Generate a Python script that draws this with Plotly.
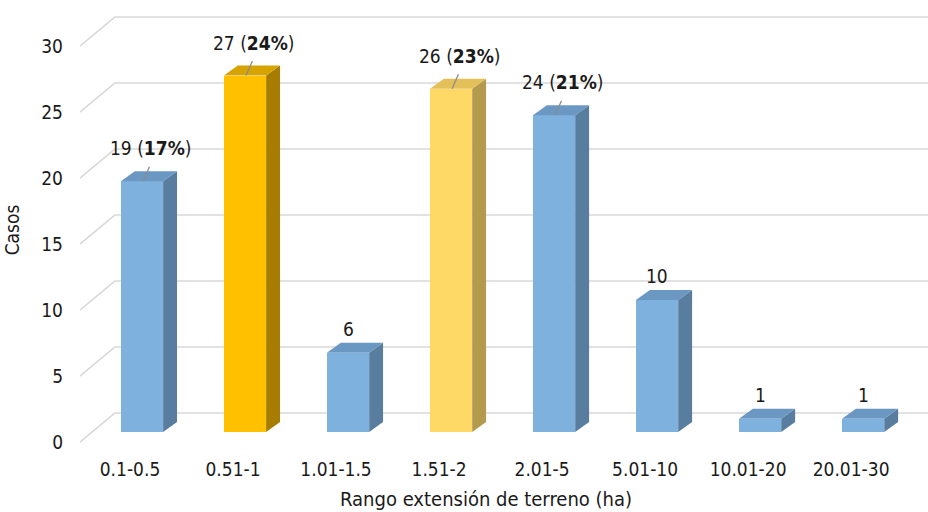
import plotly.graph_objects as go

# Data
categories = ["0.1-0.5", "0.51-1", "1.01-1.5", "1.51-2", "2.01-5", "5.01-10", "10.01-20", "20.01-30"]
casos = [19, 27, 6, 26, 24, 10, 1, 1]
porcentajes = [17, 24, None, 23, 21, None, None, None]
y_ticks = [0, 5, 10, 15, 20, 25, 30]

# Face colours (front, side, top) per bar
BLUE = ("#7FB1DF", "#587D9F", "#6B97C3")
GOLD = ("#FFC000", "#A67D00", "#D6A300")
SAND = ("#FFD966", "#B39A4C", "#E3C05A")
palette = [BLUE, GOLD, BLUE, SAND, BLUE, BLUE, BLUE, BLUE]

FONT = "Liberation Sans Narrow, DejaVu Sans Condensed, Arial Narrow, Arial, sans-serif"
TXT = "#1a1a1a"

# Pseudo-3D geometry (axis units)
BAR_W = 0.41          # width of the front face
DX, DY = 0.135, 0.76  # depth offset of side/top faces
X0, X1 = -0.602, 7.63
WALL_X = X0 + 0.34    # x where the back wall starts
FLOOR_FRONT = -0.76   # front edge offset of the floor lines
WALL_BACK = 1.44      # back wall offset of the grid lines

fig = go.Figure()

# Back-wall grid lines with the diagonal floor edge on the left, kept behind the bars
shapes = []
grid_line = dict(color="#D9D9D9", width=1.6)
for t in y_ticks:
    shapes.append(dict(type="line", xref="x", yref="y", layer="below",
                       x0=X0, y0=t + FLOOR_FRONT, x1=WALL_X, y1=t + WALL_BACK, line=grid_line))
    shapes.append(dict(type="line", xref="x", yref="y", layer="below",
                       x0=WALL_X, y0=t + WALL_BACK, x1=X1, y1=t + WALL_BACK, line=grid_line))

# Front faces
fig.add_trace(go.Bar(x=list(range(len(categories))), y=casos, width=BAR_W,
                     marker=dict(color=[p[0] for p in palette], line=dict(width=0)),
                     showlegend=False, hoverinfo="skip"))

# Side and top faces
for i, v in enumerate(casos):
    front, side, top = palette[i]
    r = i + BAR_W / 2
    l = i - BAR_W / 2
    fig.add_trace(go.Scatter(x=[r, r + DX, r + DX, r, r], y=[0, DY, v + DY, v, 0],
                             fill="toself", fillcolor=side, mode="lines",
                             line=dict(width=0, color=side),
                             hoverinfo="skip", showlegend=False))
    fig.add_trace(go.Scatter(x=[l, r, r + DX, l + DX, l], y=[v, v, v + DY, v + DY, v],
                             fill="toself", fillcolor=top, mode="lines",
                             line=dict(width=0, color=top),
                             hoverinfo="skip", showlegend=False))

# Value labels; the ones with a percentage sit higher and get a leader line
annotations = []
for i, (v, p) in enumerate(zip(casos, porcentajes)):
    if p is None:
        annotations.append(dict(x=i, y=v, xref="x", yref="y", text=str(v),
                                showarrow=False, yshift=24,
                                font=dict(family=FONT, size=19, color=TXT)))
    else:
        annotations.append(dict(x=i + 0.08, y=v, xref="x", yref="y",
                                text=f"{v} (<b>{p}%</b>)",
                                showarrow=False, yshift=33,
                                font=dict(family=FONT, size=19, color=TXT)))
        annotations.append(dict(x=i + 0.01, y=v, xref="x", yref="y", text="",
                                showarrow=True, arrowhead=0, arrowwidth=1.3,
                                arrowcolor="#8C8C8C", ax=7, ay=-16,
                                standoff=0))

# X-axis title
annotations.append(dict(x=(486 - 80) / 848, y=-(499 - 450) / 440, xref="paper", yref="paper",
                        xanchor="center", yanchor="middle",
                        text="Rango extensión de terreno (ha)", showarrow=False,
                        font=dict(family=FONT, size=20, color=TXT)))

fig.update_layout(
    width=928, height=512,
    margin=dict(l=80, r=0, t=10, b=62),
    paper_bgcolor="white", plot_bgcolor="white",
    bargap=0,
    font=dict(family=FONT, size=19, color=TXT),
    annotations=annotations,
    shapes=shapes,
    xaxis=dict(range=[X0, X1], tickmode="array", tickvals=list(range(len(categories))),
               ticktext=categories, ticklabelshift=-12, ticklabelstandoff=6,
               showgrid=False, zeroline=False, showline=False, ticks="",
               tickfont=dict(family=FONT, size=19, color=TXT)),
    yaxis=dict(range=[-18 / 13.2, 422 / 13.2], tickmode="array",
               tickvals=[t + FLOOR_FRONT for t in y_ticks], ticktext=[str(t) for t in y_ticks],
               ticklabelstandoff=16,
               showgrid=False, zeroline=False, showline=False, ticks="",
               title=dict(text="Casos", standoff=16,
                          font=dict(family=FONT, size=19, color=TXT)),
               tickfont=dict(family=FONT, size=19, color=TXT)),
)

fig.write_html("out.html")
